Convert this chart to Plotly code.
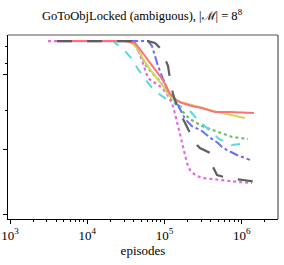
import plotly.graph_objects as go

# ---- data (episodes, metric) ----
gray_x = [4.07e3, 6.12e4, 7.55e4, 8.76e4, 9.57e4, 1.11e5, 1.18e5, 1.29e5, 1.50e5, 1.85e5, 2.14e5, 2.64e5, 2.88e5, 3.89e5, 4.26e5, 4.79e5, 6.45e5, 1.04e6, 1.63e6]
gray_y = [0.967, 0.967, 0.957, 0.929, 0.897, 0.832, 0.761, 0.679, 0.598, 0.522, 0.467, 0.402, 0.386, 0.359, 0.283, 0.239, 0.223, 0.212, 0.201]

red_x = [4.07e3, 3.08e4, 4.16e4, 4.82e4, 5.60e4, 6.50e4, 7.55e4, 8.76e4, 1.02e5, 1.18e5, 1.37e5, 1.69e5, 2.27e5, 3.06e5, 4.51e5, 6.85e5, 1.44e6]
red_y = [0.967, 0.967, 0.957, 0.924, 0.886, 0.848, 0.815, 0.777, 0.734, 0.679, 0.652, 0.630, 0.614, 0.603, 0.582, 0.582, 0.576]

yellow_x = [4.07e3, 3.58e4, 4.54e4, 5.27e4, 6.50e4, 8.00e4, 9.57e4, 1.11e5, 1.37e5, 2.02e5, 3.06e5, 3.78e5, 5.56e5, 1.10e6]
yellow_y = [0.967, 0.967, 0.924, 0.870, 0.815, 0.766, 0.723, 0.679, 0.641, 0.625, 0.603, 0.592, 0.576, 0.549]

green_x = [4.07e3, 3.80e4, 4.82e4, 5.60e4, 6.90e4, 8.24e4, 1.08e5, 1.29e5, 1.69e5, 2.14e5, 3.06e5, 4.51e5, 7.49e5, 1.21e6]
green_y = [0.967, 0.967, 0.902, 0.842, 0.793, 0.761, 0.696, 0.641, 0.587, 0.543, 0.505, 0.478, 0.446, 0.435]

cyan_x = [4.07e3, 2.16e4, 2.66e4, 3.08e4, 3.80e4, 4.54e4, 5.60e4, 7.11e4, 9.30e4, 1.18e5, 1.59e5, 2.14e5, 2.72e5, 3.56e5, 5.08e5, 7.49e5, 9.51e5]
cyan_y = [0.967, 0.967, 0.935, 0.913, 0.870, 0.815, 0.761, 0.707, 0.668, 0.641, 0.614, 0.587, 0.538, 0.495, 0.435, 0.402, 0.408]

blue_x = [4.07e3, 6.12e4, 6.90e4, 7.55e4, 8.24e4, 9.57e4, 1.11e5, 1.29e5, 1.45e5, 1.59e5, 1.85e5, 2.27e5, 3.06e5, 3.78e5, 4.93e5, 5.56e5, 6.45e5, 8.70e5, 1.28e6]
blue_y = [0.967, 0.967, 0.940, 0.886, 0.832, 0.761, 0.696, 0.652, 0.630, 0.598, 0.543, 0.505, 0.478, 0.446, 0.413, 0.391, 0.375, 0.348, 0.321]

magenta_x = [3.10e3, 3.92e4, 4.54e4, 5.12e4, 5.60e4, 6.12e4, 7.55e4, 9.30e4, 1.08e5, 1.25e5, 1.37e5, 1.50e5, 1.64e5, 1.79e5, 1.96e5, 2.14e5, 2.49e5, 3.06e5, 5.08e5, 9.23e5, 1.36e6]
magenta_y = [0.967, 0.967, 0.924, 0.859, 0.804, 0.766, 0.739, 0.712, 0.679, 0.630, 0.571, 0.500, 0.429, 0.364, 0.304, 0.266, 0.239, 0.223, 0.212, 0.201, 0.196]

x_tick_vals = [1e3, 1e4, 1e5, 1e6]
x_tick_text = ["10<sup>3</sup>", "10<sup>4</sup>", "10<sup>5</sup>", "10<sup>6</sup>"]
x_minor_vals = [m * 10 ** k for k in range(2, 7) for m in range(2, 10)]
y_major_vals = [0.0255, 0.379, 0.786]
y_minor_vals = [0.587, 0.846, 0.936]

series = [
    (magenta_x, magenta_y, "#e46ae4", "dot", 2.2),
    (green_x, green_y, "#6cbf6c", "dot", 2.2),
    (cyan_x, cyan_y, "#5ad9d9", "dash", 2.0),
    (blue_x, blue_y, "#6b6bff", "dashdot", 2.0),
    (yellow_x, yellow_y, "#d6d65e", "solid", 2.0),
    (red_x, red_y, "#ff7272", "solid", 2.0),
    (gray_x, gray_y, "#5e5e5e", "longdash", 2.2),
]

fig = go.Figure()
for xs, ys, c, d, w in series:
    fig.add_trace(go.Scatter(x=xs, y=ys, mode="lines",
                             line=dict(color=c, dash=d, width=w),
                             showlegend=False, hoverinfo="skip"))

font = "Liberation Serif, Times New Roman, serif"
fig.update_layout(
    width=284, height=265,
    margin=dict(l=8, r=6, t=35, b=46, autoexpand=False),
    paper_bgcolor="white", plot_bgcolor="white",
    font=dict(family=font, size=13, color="black"),
    title=dict(text="GoToObjLocked (ambiguous), |ℳ| = 8<sup>8</sup>",
               x=0.5, xanchor="center", y=1 - 16 / 265, yanchor="middle",
               yref="container", automargin=False,
               font=dict(family=font, size=12.5, color="black")),
    xaxis=dict(type="log", range=[2.974, 6.47], showgrid=False, zeroline=False,
               automargin=False,
               showline=True, linecolor="black", linewidth=1.2,
               ticks="outside", ticklen=4, tickwidth=1, tickcolor="black",
               tickmode="array", tickvals=x_tick_vals, ticktext=x_tick_text,
               tickfont=dict(family=font, size=13, color="black"),
               minor=dict(tickmode="array", tickvals=x_minor_vals, ticks="outside",
                          ticklen=2, tickwidth=1, tickcolor="black", showgrid=False),
               title=dict(text="episodes", standoff=2,
                          font=dict(family=font, size=13, color="black"))),
    yaxis=dict(range=[0, 1], showgrid=False, zeroline=False, automargin=False,
               showline=True, linecolor="black", linewidth=1.2,
               ticks="outside", ticklen=4, tickwidth=1, tickcolor="black",
               tickmode="array", tickvals=y_major_vals, showticklabels=False,
               minor=dict(tickmode="array", tickvals=y_minor_vals, ticks="outside",
                          ticklen=2, tickwidth=1, tickcolor="black", showgrid=False)),
    shapes=[
        dict(type="line", xref="paper", yref="paper", x0=0, x1=1, y0=1, y1=1,
             line=dict(color="#555555", width=1.2)),
        dict(type="line", xref="paper", yref="paper", x0=1, x1=1, y0=0, y1=1,
             line=dict(color="#555555", width=1.2)),
    ],
)

fig.write_html("out.html", config={"displayModeBar": False, "staticPlot": True},
               post_script="document.body.style.margin='0';document.body.style.overflow='hidden';")
